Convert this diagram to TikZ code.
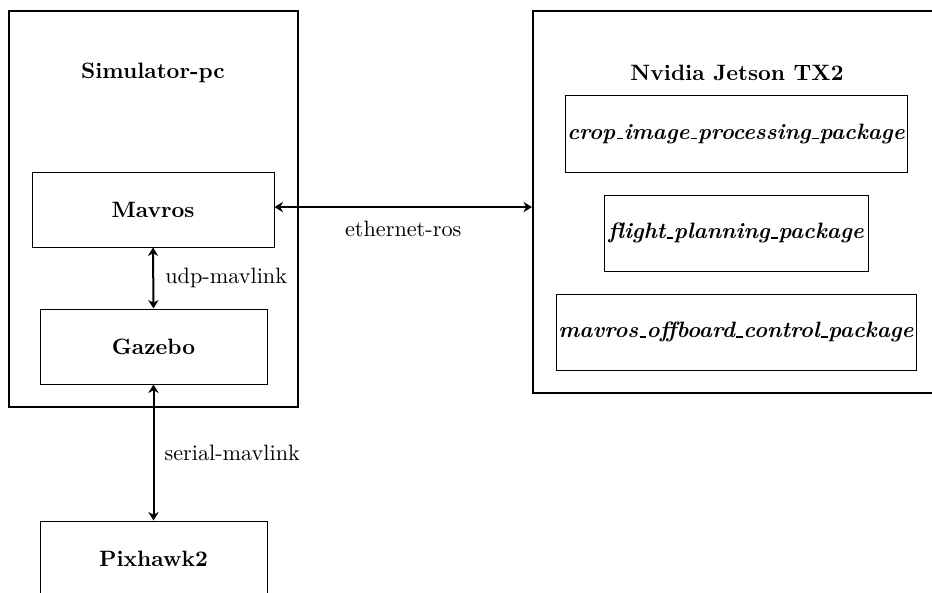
\documentclass[tikz,border=0pt]{standalone}
\usetikzlibrary{arrows.meta}
\newcommand\us{\leavevmode\kern.06em\vbox{\hrule width.3em height .5pt}\kern.02em}
\begin{document}
\begin{tikzpicture}[x=0.45pt,y=-0.45pt,
  outerbox/.style={draw,line width=0.95pt,inner sep=0pt},
  innerbox/.style={draw,line width=0.45pt,inner sep=0pt,font=\bfseries},
  pkgbox/.style={draw,line width=0.45pt,inner sep=0pt,font=\bfseries\itshape},
  title/.style={font=\bfseries,inner sep=0pt},
  link/.style={{Stealth[length=3.8pt,width=4.6pt,inset=1.2pt]}-{Stealth[length=3.8pt,width=4.6pt,inset=1.2pt]},line width=0.9pt},
  lbl/.style={inner sep=0pt}]
\clip (0,0) rectangle (932,593);
% outer boxes
\node[outerbox,minimum width=289*0.45pt,minimum height=396*0.45pt] (sim) at (153.5,209) {};
\node[title] (simt) at (153,73) {Simulator-pc};
\node[outerbox,minimum width=427*0.45pt,minimum height=382*0.45pt] (jet) at (746.5,202) {};
\node[title] (jett) at (737,73) {Nvidia Jetson TX2};
% inner boxes
\node[innerbox,minimum width=242*0.45pt,minimum height=75*0.45pt] (mav) at (153,209.5) {Mavros};
\node[innerbox,minimum width=227*0.45pt,minimum height=75*0.45pt] (gaz) at (153.5,346.5) {Gazebo};
\node[innerbox,minimum width=227*0.45pt,minimum height=75*0.45pt] (pix) at (153.5,558.5) {Pixhawk2};
\node[pkgbox,minimum width=342*0.45pt,minimum height=76*0.45pt] (crop) at (736,134) {crop\us image\us processing\us package};
\node[pkgbox,minimum width=264*0.45pt,minimum height=76*0.45pt] (flight) at (736,233) {flight\us planning\us package};
\node[pkgbox,minimum width=360*0.45pt,minimum height=76*0.45pt] (offb) at (736,332) {mavros\us offboard\us control\us package};
% links
\draw[link] (mav.south) -- node[lbl,right=5pt] {udp-mavlink} (gaz.north);
\draw[link] (gaz.south) -- node[lbl,right=4.5pt] {serial-mavlink} (pix.north);
\coordinate (eth) at ([yshift=1.1pt]mav.east);
\draw[link] (eth) -- node[lbl,below=6pt] {ethernet-ros} (eth -| jet.west);
\end{tikzpicture}
\end{document}
